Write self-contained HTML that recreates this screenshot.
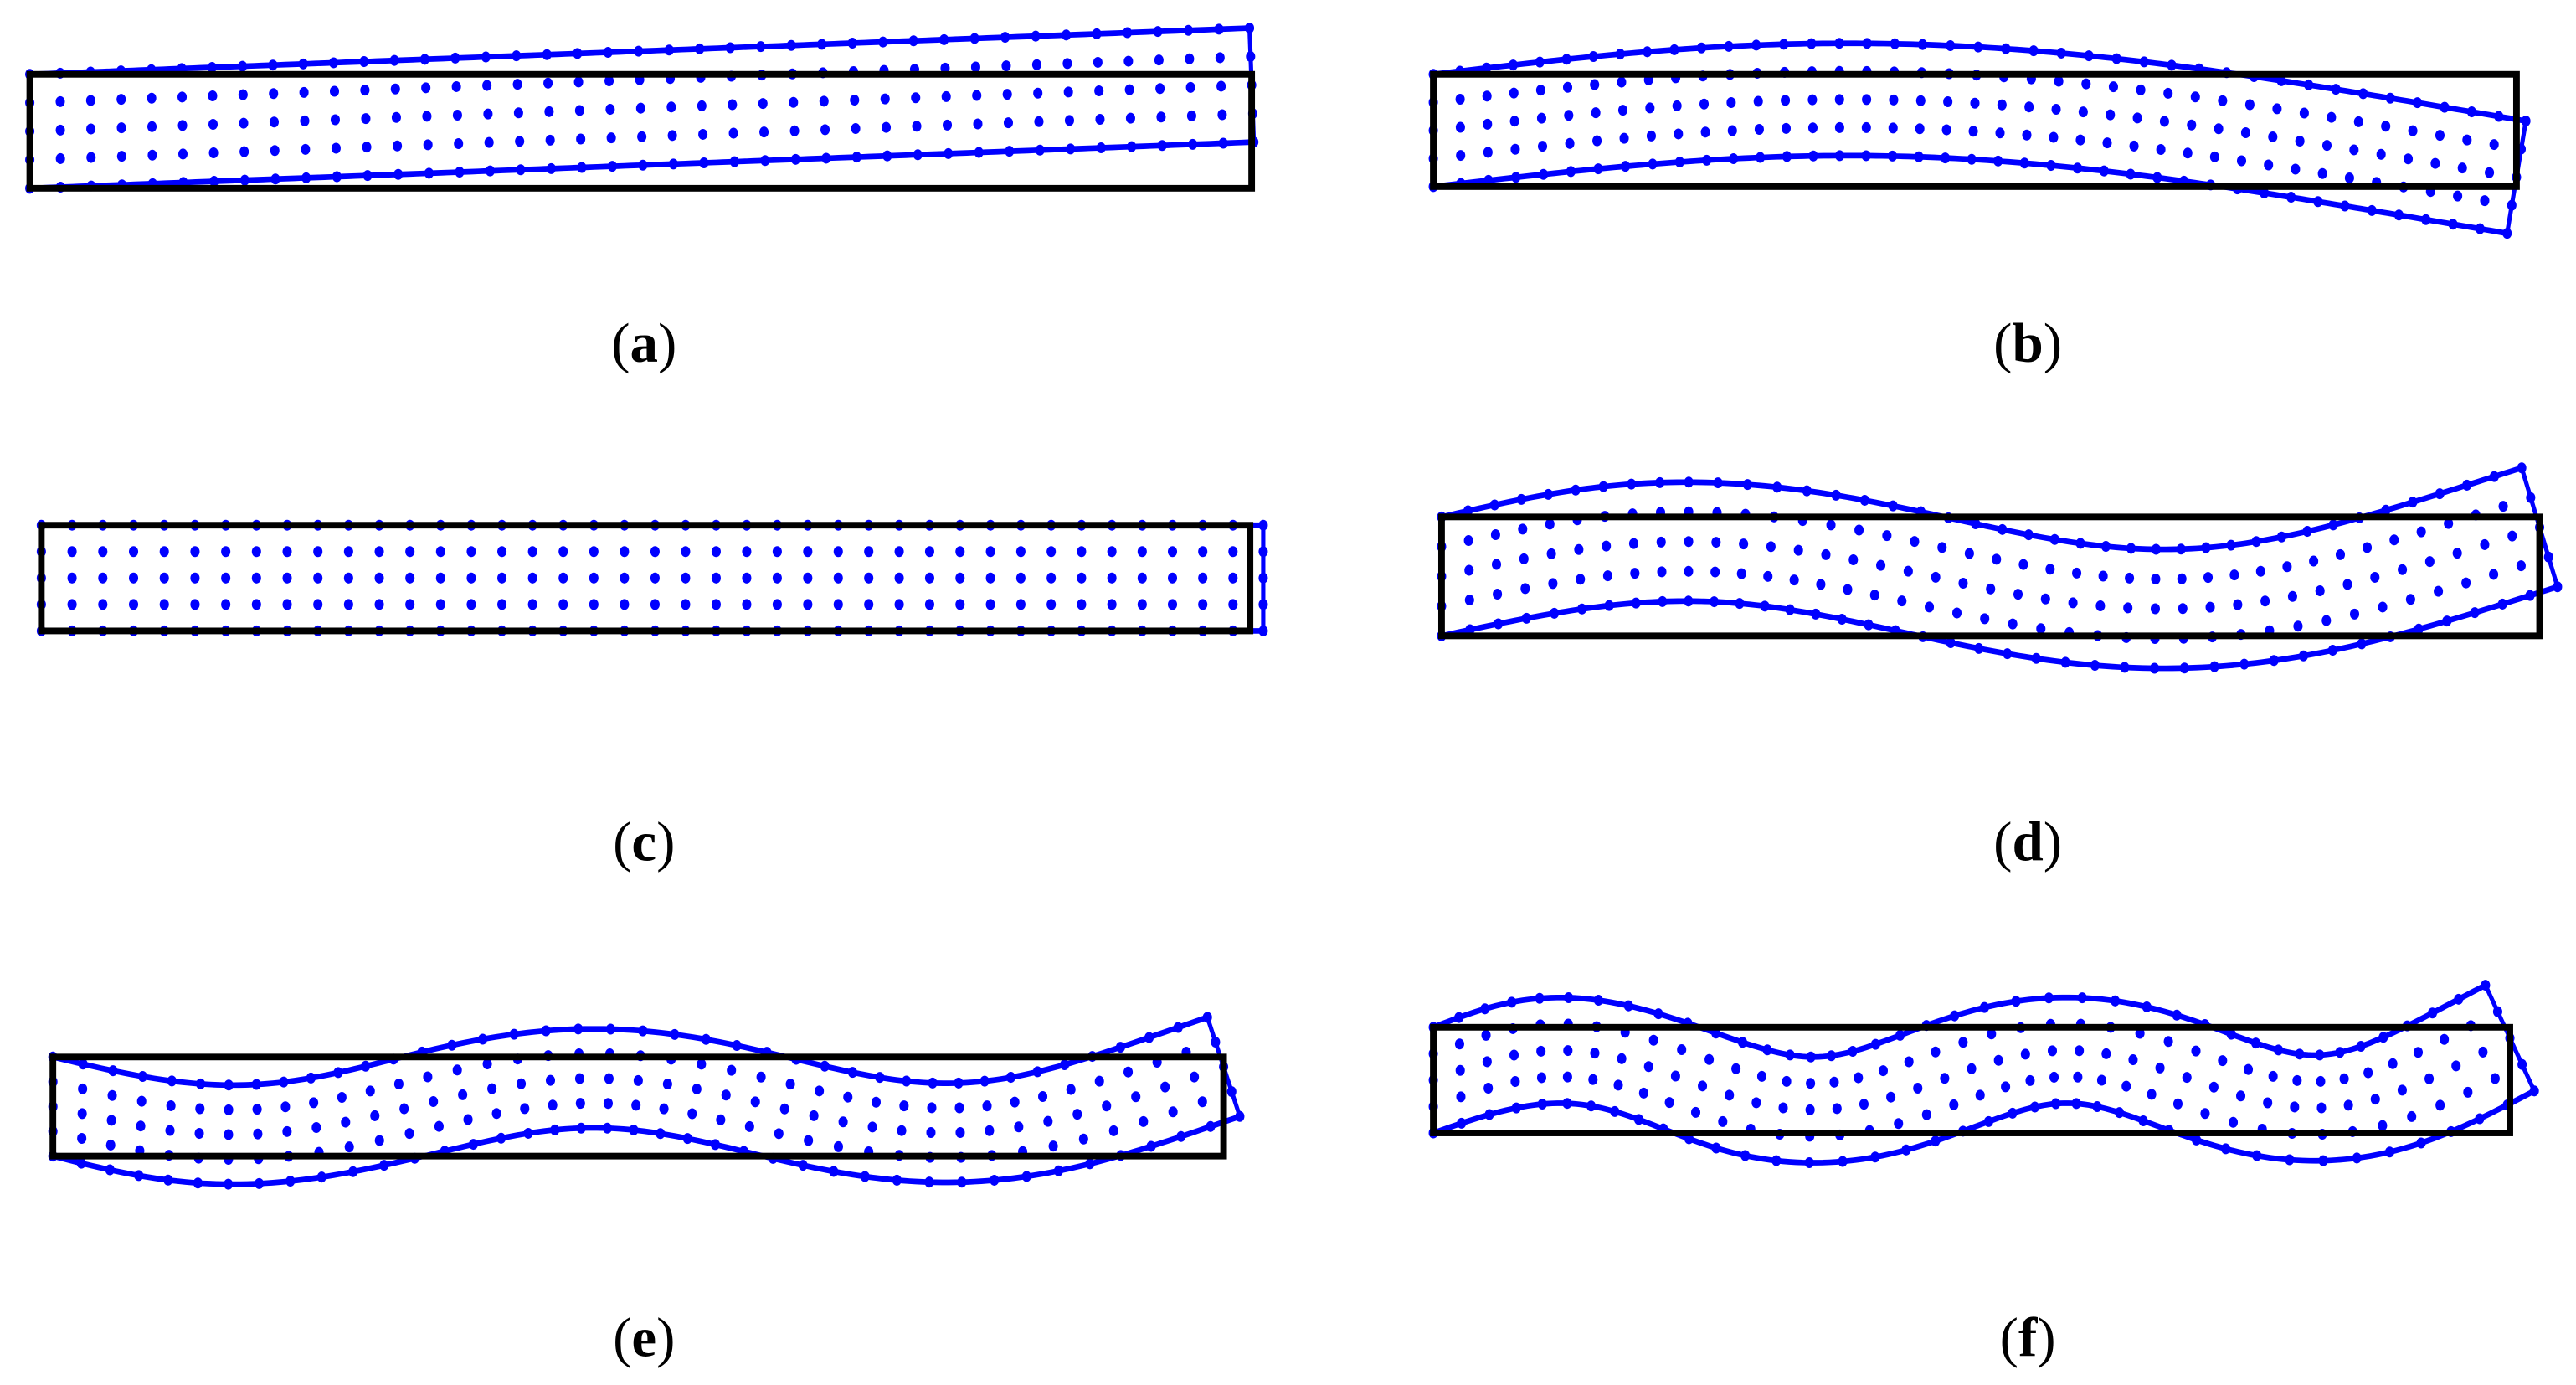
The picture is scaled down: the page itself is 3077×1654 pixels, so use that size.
<!DOCTYPE html>
<html><head><meta charset="utf-8"><style>
html,body{margin:0;padding:0;background:#fff;}
svg{display:block;}
</style></head><body>
<svg id="s" xmlns="http://www.w3.org/2000/svg" width="3077" height="1654" viewBox="0 0 1560 838.6">
<g id="g"></g>
<g font-family="Liberation Serif, serif" font-size="34" text-anchor="middle" fill="#000">
<text x="390" y="219">(<tspan font-weight="bold">a</tspan>)</text>
<text x="1228" y="219">(<tspan font-weight="bold">b</tspan>)</text>
<text x="390" y="521">(<tspan font-weight="bold">c</tspan>)</text>
<text x="1228" y="521">(<tspan font-weight="bold">d</tspan>)</text>
<text x="390" y="821">(<tspan font-weight="bold">e</tspan>)</text>
<text x="1228" y="821">(<tspan font-weight="bold">f</tspan>)</text>
</g>
</svg>
<script>
(function(){
var NS="http://www.w3.org/2000/svg",g=document.getElementById('g');
function el(n,a){var e=document.createElementNS(NS,n);for(var k in a)e.setAttribute(k,a[k]);g.appendChild(e);return e;}
function pf(b){return function(s){return b===0?s:Math.sin(b*s)+Math.sin(b)/Math.sinh(b)*Math.sinh(b*s);};}
var panels=[
 {x0:18,x1:758,y0:45,y1:114,type:'b',f:pf(0),A:-28},
 {x0:868,x1:1524,y0:45,y1:113,type:'b',f:pf(3.9266),A:-20},
 {x0:25,x1:757,y0:318,y1:382,type:'a',d:8},
 {x0:873,x1:1538,y0:313,y1:385,type:'b',f:pf(7.0686),A:-21},
 {x0:32,x1:741,y0:640,y1:700,type:'b',f:pf(10.2102),A:17},
 {x0:868,x1:1520,y0:622,y1:686,type:'b',f:pf(13.3518),A:-18}
];
panels.forEach(function(p){
 var L=p.x1-p.x0,H=p.y1-p.y0,yc=(p.y0+p.y1)/2;
 function pt(s,t){
  var off=(t-0.5)*H;
  if(p.type==='a'){return [p.x0+s*L+p.d*Math.sin(Math.PI*s/2),yc+off];}
  var w=p.A*p.f(s),h=1e-4,sl=p.A*(p.f(Math.min(1,s+h))-p.f(Math.max(0,s-h)))/((Math.min(1,s+h)-Math.max(0,s-h))*L);
  var c=1/Math.sqrt(1+sl*sl);
  var wgt=Math.min(1,s*3);
  return [p.x0+s*L-off*sl*c*wgt, yc+w+off];
 }
 function line(pts){return pts.map(function(q,i){return (i?'L':'M')+q[0].toFixed(2)+' '+q[1].toFixed(2);}).join(' ');}
 var top=[],bot=[],N=200;
 for(var i=0;i<=N;i++){top.push(pt(i/N,0));bot.push(pt(i/N,1));}
 var right=[];for(var j=0;j<=10;j++)right.push(pt(1,j/10));
 el('path',{d:line(top),fill:'none',stroke:'#0000ff','stroke-width':3.4});
 el('path',{d:line(bot),fill:'none',stroke:'#0000ff','stroke-width':3.4});
 el('path',{d:line(right),fill:'none',stroke:'#0000ff','stroke-width':2.6});
 var C=40;
 for(var a=0;a<=C;a++)for(var r=0;r<=4;r++){var q=pt(a/C,r/4);el('ellipse',{cx:q[0].toFixed(2),cy:q[1].toFixed(2),rx:2.8,ry:3.3,fill:'#0000ff'});}
 el('rect',{x:p.x0,y:p.y0,width:L,height:H,fill:'none',stroke:'#000','stroke-width':4});
});
})();
</script>
</body></html>
